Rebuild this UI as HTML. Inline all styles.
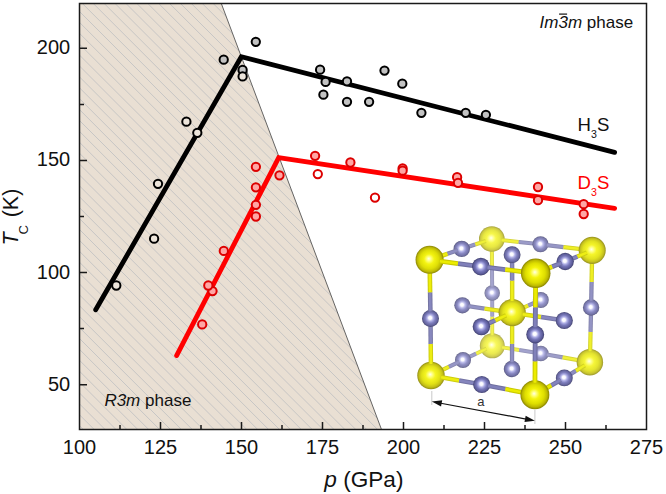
<!DOCTYPE html>
<html><head><meta charset="utf-8"><style>
html,body{margin:0;padding:0;background:#fff;width:666px;height:494px;overflow:hidden}
svg{display:block}
text{font-family:"Liberation Sans",sans-serif}
</style></head><body>
<svg width="666" height="494" viewBox="0 0 666 494">
<defs><clipPath id="shade"><polygon points="79.50,3.50 221.30,3.50 381.50,429.50 79.50,429.50"/></clipPath>
<radialGradient id="g1" cx="0.5" cy="0.5" r="0.5" fx="0.47" fy="0.46"><stop offset="0.00" stop-color="#ffffe9"/><stop offset="0.16" stop-color="#ffff7b"/><stop offset="0.36" stop-color="#f4f412"/><stop offset="0.66" stop-color="#dfdf06"/><stop offset="0.86" stop-color="#c0bc06"/><stop offset="1.00" stop-color="#8a8506"/></radialGradient>
<radialGradient id="g2" cx="0.5" cy="0.5" r="0.5" fx="0.47" fy="0.46"><stop offset="0.00" stop-color="#ffffee"/><stop offset="0.16" stop-color="#ffff9b"/><stop offset="0.36" stop-color="#f7f74b"/><stop offset="0.66" stop-color="#e7e742"/><stop offset="0.86" stop-color="#cfcc42"/><stop offset="1.00" stop-color="#a6a242"/></radialGradient>
<radialGradient id="g3" cx="0.5" cy="0.5" r="0.5" fx="0.47" fy="0.46"><stop offset="0.00" stop-color="#ffffea"/><stop offset="0.16" stop-color="#ffff84"/><stop offset="0.36" stop-color="#f5f521"/><stop offset="0.66" stop-color="#e1e116"/><stop offset="0.86" stop-color="#c4c016"/><stop offset="1.00" stop-color="#918d16"/></radialGradient>
<radialGradient id="g4" cx="0.5" cy="0.5" r="0.5" fx="0.47" fy="0.46"><stop offset="0.00" stop-color="#ffffef"/><stop offset="0.16" stop-color="#ffffa3"/><stop offset="0.36" stop-color="#f8f85a"/><stop offset="0.66" stop-color="#e9e952"/><stop offset="0.86" stop-color="#d3d052"/><stop offset="1.00" stop-color="#adaa52"/></radialGradient>
<radialGradient id="g5" cx="0.5" cy="0.5" r="0.5" fx="0.47" fy="0.46"><stop offset="0.00" stop-color="#ffffe8"/><stop offset="0.16" stop-color="#ffff78"/><stop offset="0.36" stop-color="#f4f40c"/><stop offset="0.66" stop-color="#dede00"/><stop offset="0.86" stop-color="#beba00"/><stop offset="1.00" stop-color="#878200"/></radialGradient>
<radialGradient id="g6" cx="0.5" cy="0.5" r="0.5" fx="0.47" fy="0.46"><stop offset="0.00" stop-color="#ffffeb"/><stop offset="0.16" stop-color="#ffff89"/><stop offset="0.36" stop-color="#f5f52a"/><stop offset="0.66" stop-color="#e2e21f"/><stop offset="0.86" stop-color="#c6c21f"/><stop offset="1.00" stop-color="#96911f"/></radialGradient>
<radialGradient id="g7" cx="0.5" cy="0.5" r="0.5" fx="0.47" fy="0.46"><stop offset="0.00" stop-color="#ffffe8"/><stop offset="0.16" stop-color="#ffff78"/><stop offset="0.36" stop-color="#f4f40c"/><stop offset="0.66" stop-color="#dede00"/><stop offset="0.86" stop-color="#beba00"/><stop offset="1.00" stop-color="#878200"/></radialGradient>
<radialGradient id="g8" cx="0.5" cy="0.5" r="0.5" fx="0.47" fy="0.46"><stop offset="0.00" stop-color="#ffffec"/><stop offset="0.16" stop-color="#ffff91"/><stop offset="0.36" stop-color="#f6f639"/><stop offset="0.66" stop-color="#e4e42f"/><stop offset="0.86" stop-color="#cac72f"/><stop offset="1.00" stop-color="#9d992f"/></radialGradient>
<radialGradient id="g9" cx="0.5" cy="0.5" r="0.5" fx="0.47" fy="0.46"><stop offset="0.00" stop-color="#ffffea"/><stop offset="0.16" stop-color="#ffff86"/><stop offset="0.36" stop-color="#f5f525"/><stop offset="0.66" stop-color="#e1e11b"/><stop offset="0.86" stop-color="#c5c11b"/><stop offset="1.00" stop-color="#948f1b"/></radialGradient>
<radialGradient id="g10" cx="0.5" cy="0.5" r="0.5" fx="0.47" fy="0.46"><stop offset="0.00" stop-color="#ffffff"/><stop offset="0.18" stop-color="#fafaff"/><stop offset="0.38" stop-color="#aaaae4"/><stop offset="0.60" stop-color="#7676b9"/><stop offset="0.85" stop-color="#5a5a96"/><stop offset="1.00" stop-color="#3c3c69"/></radialGradient>
<radialGradient id="g11" cx="0.5" cy="0.5" r="0.5" fx="0.47" fy="0.46"><stop offset="0.00" stop-color="#ffffff"/><stop offset="0.18" stop-color="#fafaff"/><stop offset="0.38" stop-color="#afafe5"/><stop offset="0.60" stop-color="#7e7ebd"/><stop offset="0.85" stop-color="#63639c"/><stop offset="1.00" stop-color="#474771"/></radialGradient>
<radialGradient id="g12" cx="0.5" cy="0.5" r="0.5" fx="0.47" fy="0.46"><stop offset="0.00" stop-color="#ffffff"/><stop offset="0.18" stop-color="#fbfbff"/><stop offset="0.38" stop-color="#b6b6e8"/><stop offset="0.60" stop-color="#8989c3"/><stop offset="0.85" stop-color="#7171a5"/><stop offset="1.00" stop-color="#58587e"/></radialGradient>
<radialGradient id="g13" cx="0.5" cy="0.5" r="0.5" fx="0.47" fy="0.46"><stop offset="0.00" stop-color="#ffffff"/><stop offset="0.18" stop-color="#fbfbff"/><stop offset="0.38" stop-color="#babae9"/><stop offset="0.60" stop-color="#9090c6"/><stop offset="0.85" stop-color="#7979aa"/><stop offset="1.00" stop-color="#616186"/></radialGradient>
<radialGradient id="g14" cx="0.5" cy="0.5" r="0.5" fx="0.47" fy="0.46"><stop offset="0.00" stop-color="#ffffff"/><stop offset="0.18" stop-color="#fbfbff"/><stop offset="0.38" stop-color="#c3c3ec"/><stop offset="0.60" stop-color="#9e9ecd"/><stop offset="0.85" stop-color="#8a8ab4"/><stop offset="1.00" stop-color="#747494"/></radialGradient>
<radialGradient id="g15" cx="0.5" cy="0.5" r="0.5" fx="0.47" fy="0.46"><stop offset="0.00" stop-color="#ffffff"/><stop offset="0.18" stop-color="#fbfbff"/><stop offset="0.38" stop-color="#bbbbe9"/><stop offset="0.60" stop-color="#9292c7"/><stop offset="0.85" stop-color="#7c7cab"/><stop offset="1.00" stop-color="#646487"/></radialGradient>
<radialGradient id="g16" cx="0.5" cy="0.5" r="0.5" fx="0.47" fy="0.46"><stop offset="0.00" stop-color="#ffffff"/><stop offset="0.18" stop-color="#fafaff"/><stop offset="0.38" stop-color="#acace4"/><stop offset="0.60" stop-color="#7979ba"/><stop offset="0.85" stop-color="#5d5d98"/><stop offset="1.00" stop-color="#40406c"/></radialGradient>
<radialGradient id="g17" cx="0.5" cy="0.5" r="0.5" fx="0.47" fy="0.46"><stop offset="0.00" stop-color="#ffffff"/><stop offset="0.18" stop-color="#fafaff"/><stop offset="0.38" stop-color="#aaaae4"/><stop offset="0.60" stop-color="#7676b9"/><stop offset="0.85" stop-color="#5a5a96"/><stop offset="1.00" stop-color="#3c3c69"/></radialGradient>
<radialGradient id="g18" cx="0.5" cy="0.5" r="0.5" fx="0.47" fy="0.46"><stop offset="0.00" stop-color="#ffffff"/><stop offset="0.18" stop-color="#fafaff"/><stop offset="0.38" stop-color="#ababe4"/><stop offset="0.60" stop-color="#7777b9"/><stop offset="0.85" stop-color="#5b5b97"/><stop offset="1.00" stop-color="#3d3d6a"/></radialGradient>
<radialGradient id="g19" cx="0.5" cy="0.5" r="0.5" fx="0.47" fy="0.46"><stop offset="0.00" stop-color="#ffffff"/><stop offset="0.18" stop-color="#fbfbff"/><stop offset="0.38" stop-color="#bfbfeb"/><stop offset="0.60" stop-color="#9999cb"/><stop offset="0.85" stop-color="#8484b0"/><stop offset="1.00" stop-color="#6d6d8f"/></radialGradient>
<radialGradient id="g20" cx="0.5" cy="0.5" r="0.5" fx="0.47" fy="0.46"><stop offset="0.00" stop-color="#ffffff"/><stop offset="0.18" stop-color="#fbfbff"/><stop offset="0.38" stop-color="#b7b7e8"/><stop offset="0.60" stop-color="#8b8bc4"/><stop offset="0.85" stop-color="#7373a6"/><stop offset="1.00" stop-color="#5a5a80"/></radialGradient>
<radialGradient id="g21" cx="0.5" cy="0.5" r="0.5" fx="0.47" fy="0.46"><stop offset="0.00" stop-color="#ffffff"/><stop offset="0.18" stop-color="#fafaff"/><stop offset="0.38" stop-color="#b0b0e6"/><stop offset="0.60" stop-color="#7f7fbe"/><stop offset="0.85" stop-color="#65659d"/><stop offset="1.00" stop-color="#494973"/></radialGradient>
<radialGradient id="g22" cx="0.5" cy="0.5" r="0.5" fx="0.47" fy="0.46"><stop offset="0.00" stop-color="#ffffff"/><stop offset="0.18" stop-color="#fafaff"/><stop offset="0.38" stop-color="#aaaae4"/><stop offset="0.60" stop-color="#7676b9"/><stop offset="0.85" stop-color="#5a5a96"/><stop offset="1.00" stop-color="#3c3c69"/></radialGradient>
<radialGradient id="g23" cx="0.5" cy="0.5" r="0.5" fx="0.47" fy="0.46"><stop offset="0.00" stop-color="#ffffff"/><stop offset="0.18" stop-color="#fbfbff"/><stop offset="0.38" stop-color="#bdbdea"/><stop offset="0.60" stop-color="#9494c9"/><stop offset="0.85" stop-color="#7f7fad"/><stop offset="1.00" stop-color="#67678a"/></radialGradient>
<radialGradient id="g24" cx="0.5" cy="0.5" r="0.5" fx="0.47" fy="0.46"><stop offset="0.00" stop-color="#ffffff"/><stop offset="0.18" stop-color="#fafaff"/><stop offset="0.38" stop-color="#b0b0e6"/><stop offset="0.60" stop-color="#8080be"/><stop offset="0.85" stop-color="#66669e"/><stop offset="1.00" stop-color="#4a4a74"/></radialGradient>
<radialGradient id="g25" cx="0.5" cy="0.5" r="0.5" fx="0.47" fy="0.46"><stop offset="0.00" stop-color="#ffffff"/><stop offset="0.18" stop-color="#fbfbff"/><stop offset="0.38" stop-color="#b6b6e8"/><stop offset="0.60" stop-color="#8989c2"/><stop offset="0.85" stop-color="#7070a4"/><stop offset="1.00" stop-color="#56567d"/></radialGradient>
<radialGradient id="g26" cx="0.5" cy="0.5" r="0.5" fx="0.47" fy="0.46"><stop offset="0.00" stop-color="#ffffff"/><stop offset="0.18" stop-color="#fbfbff"/><stop offset="0.38" stop-color="#b9b9e9"/><stop offset="0.60" stop-color="#8e8ec5"/><stop offset="0.85" stop-color="#7676a8"/><stop offset="1.00" stop-color="#5e5e83"/></radialGradient>
<radialGradient id="g27" cx="0.5" cy="0.5" r="0.5" fx="0.47" fy="0.46"><stop offset="0.00" stop-color="#ffffff"/><stop offset="0.18" stop-color="#fafaff"/><stop offset="0.38" stop-color="#adade5"/><stop offset="0.60" stop-color="#7b7bbc"/><stop offset="0.85" stop-color="#60609a"/><stop offset="1.00" stop-color="#43436f"/></radialGradient>
</defs>
<polygon points="79.50,3.50 221.30,3.50 381.50,429.50 79.50,429.50" fill="#e9dfd3"/>
<path clip-path="url(#shade)" d="M-576.60 -1.50L-140.60 434.50M-565.70 -1.50L-129.70 434.50M-554.80 -1.50L-118.80 434.50M-543.90 -1.50L-107.90 434.50M-533.00 -1.50L-97.00 434.50M-522.10 -1.50L-86.10 434.50M-511.20 -1.50L-75.20 434.50M-500.30 -1.50L-64.30 434.50M-489.40 -1.50L-53.40 434.50M-478.50 -1.50L-42.50 434.50M-467.60 -1.50L-31.60 434.50M-456.70 -1.50L-20.70 434.50M-445.80 -1.50L-9.80 434.50M-434.90 -1.50L1.10 434.50M-424.00 -1.50L12.00 434.50M-413.10 -1.50L22.90 434.50M-402.20 -1.50L33.80 434.50M-391.30 -1.50L44.70 434.50M-380.40 -1.50L55.60 434.50M-369.50 -1.50L66.50 434.50M-358.60 -1.50L77.40 434.50M-347.70 -1.50L88.30 434.50M-336.80 -1.50L99.20 434.50M-325.90 -1.50L110.10 434.50M-315.00 -1.50L121.00 434.50M-304.10 -1.50L131.90 434.50M-293.20 -1.50L142.80 434.50M-282.30 -1.50L153.70 434.50M-271.40 -1.50L164.60 434.50M-260.50 -1.50L175.50 434.50M-249.60 -1.50L186.40 434.50M-238.70 -1.50L197.30 434.50M-227.80 -1.50L208.20 434.50M-216.90 -1.50L219.10 434.50M-206.00 -1.50L230.00 434.50M-195.10 -1.50L240.90 434.50M-184.20 -1.50L251.80 434.50M-173.30 -1.50L262.70 434.50M-162.40 -1.50L273.60 434.50M-151.50 -1.50L284.50 434.50M-140.60 -1.50L295.40 434.50M-129.70 -1.50L306.30 434.50M-118.80 -1.50L317.20 434.50M-107.90 -1.50L328.10 434.50M-97.00 -1.50L339.00 434.50M-86.10 -1.50L349.90 434.50M-75.20 -1.50L360.80 434.50M-64.30 -1.50L371.70 434.50M-53.40 -1.50L382.60 434.50M-42.50 -1.50L393.50 434.50M-31.60 -1.50L404.40 434.50M-20.70 -1.50L415.30 434.50M-9.80 -1.50L426.20 434.50M1.10 -1.50L437.10 434.50M12.00 -1.50L448.00 434.50M22.90 -1.50L458.90 434.50M33.80 -1.50L469.80 434.50M44.70 -1.50L480.70 434.50M55.60 -1.50L491.60 434.50M66.50 -1.50L502.50 434.50M77.40 -1.50L513.40 434.50M88.30 -1.50L524.30 434.50M99.20 -1.50L535.20 434.50M110.10 -1.50L546.10 434.50M121.00 -1.50L557.00 434.50M131.90 -1.50L567.90 434.50M142.80 -1.50L578.80 434.50M153.70 -1.50L589.70 434.50M164.60 -1.50L600.60 434.50M175.50 -1.50L611.50 434.50M186.40 -1.50L622.40 434.50M197.30 -1.50L633.30 434.50M208.20 -1.50L644.20 434.50M219.10 -1.50L655.10 434.50M230.00 -1.50L666.00 434.50M240.90 -1.50L676.90 434.50M251.80 -1.50L687.80 434.50M262.70 -1.50L698.70 434.50M273.60 -1.50L709.60 434.50M284.50 -1.50L720.50 434.50M295.40 -1.50L731.40 434.50M306.30 -1.50L742.30 434.50M317.20 -1.50L753.20 434.50M328.10 -1.50L764.10 434.50M339.00 -1.50L775.00 434.50M349.90 -1.50L785.90 434.50M360.80 -1.50L796.80 434.50M371.70 -1.50L807.70 434.50M382.60 -1.50L818.60 434.50M393.50 -1.50L829.50 434.50" stroke="#c3c3c3" stroke-width="0.9" fill="none"/>
<line x1="221.3" y1="3.5" x2="381.5" y2="429.5" stroke="#555" stroke-width="0.9"/>
<polyline points="95.7,309.8 241.3,56.8 614.6,152.4" fill="none" stroke="#000" stroke-width="4.8" stroke-linecap="round" stroke-linejoin="miter"/>
<polyline points="176.6,355.6 278.7,157.7 614.6,208.3" fill="none" stroke="#ff0000" stroke-width="4.8" stroke-linecap="round" stroke-linejoin="miter"/>
<circle cx="116.3" cy="285.5" r="4.15" fill="#ede5db" stroke="#000" stroke-width="2.0"/>
<circle cx="154.1" cy="238.7" r="4.15" fill="#ede5db" stroke="#000" stroke-width="2.0"/>
<circle cx="158.0" cy="183.8" r="4.15" fill="#ede5db" stroke="#000" stroke-width="2.0"/>
<circle cx="186.4" cy="121.7" r="4.15" fill="#ede5db" stroke="#000" stroke-width="2.0"/>
<circle cx="197.3" cy="132.8" r="4.15" fill="#ede5db" stroke="#000" stroke-width="2.0"/>
<circle cx="223.7" cy="59.7" r="4.15" fill="#c2c2c2" stroke="#000" stroke-width="2.0"/>
<circle cx="242.6" cy="70.0" r="4.15" fill="#c2c2c2" stroke="#000" stroke-width="2.0"/>
<circle cx="242.6" cy="76.4" r="4.15" fill="#ede5db" stroke="#000" stroke-width="2.0"/>
<circle cx="255.8" cy="41.8" r="4.15" fill="#c2c2c2" stroke="#000" stroke-width="2.0"/>
<circle cx="320.1" cy="69.7" r="4.15" fill="#c2c2c2" stroke="#000" stroke-width="2.0"/>
<circle cx="325.6" cy="81.9" r="4.15" fill="#c2c2c2" stroke="#000" stroke-width="2.0"/>
<circle cx="323.4" cy="94.7" r="4.15" fill="#c2c2c2" stroke="#000" stroke-width="2.0"/>
<circle cx="347.0" cy="81.3" r="4.15" fill="#c2c2c2" stroke="#000" stroke-width="2.0"/>
<circle cx="347.0" cy="101.8" r="4.15" fill="#c2c2c2" stroke="#000" stroke-width="2.0"/>
<circle cx="369.1" cy="101.8" r="4.15" fill="#c2c2c2" stroke="#000" stroke-width="2.0"/>
<circle cx="384.5" cy="70.6" r="4.15" fill="#c2c2c2" stroke="#000" stroke-width="2.0"/>
<circle cx="402.3" cy="83.7" r="4.15" fill="#c2c2c2" stroke="#000" stroke-width="2.0"/>
<circle cx="421.4" cy="112.8" r="4.15" fill="#c2c2c2" stroke="#000" stroke-width="2.0"/>
<circle cx="465.7" cy="112.8" r="4.15" fill="#c2c2c2" stroke="#000" stroke-width="2.0"/>
<circle cx="485.9" cy="114.8" r="4.15" fill="#c2c2c2" stroke="#000" stroke-width="2.0"/>
<circle cx="212.5" cy="291.1" r="4.15" fill="#ffa6a4" stroke="#dc0000" stroke-width="2.0"/>
<circle cx="208.3" cy="285.5" r="4.15" fill="#ffa6a4" stroke="#dc0000" stroke-width="2.0"/>
<circle cx="202.2" cy="324.4" r="4.15" fill="#ffa6a4" stroke="#dc0000" stroke-width="2.0"/>
<circle cx="223.8" cy="250.9" r="4.15" fill="#ffa6a4" stroke="#dc0000" stroke-width="2.0"/>
<circle cx="255.9" cy="166.8" r="4.15" fill="#ffa6a4" stroke="#dc0000" stroke-width="2.0"/>
<circle cx="255.9" cy="187.3" r="4.15" fill="#ffa6a4" stroke="#dc0000" stroke-width="2.0"/>
<circle cx="255.9" cy="204.8" r="4.15" fill="#ffa6a4" stroke="#dc0000" stroke-width="2.0"/>
<circle cx="255.9" cy="216.5" r="4.15" fill="#ffa6a4" stroke="#dc0000" stroke-width="2.0"/>
<circle cx="279.5" cy="175.3" r="4.15" fill="#ffa6a4" stroke="#dc0000" stroke-width="2.0"/>
<circle cx="315.1" cy="155.8" r="4.15" fill="#ffa6a4" stroke="#dc0000" stroke-width="2.0"/>
<circle cx="317.8" cy="174.1" r="4.15" fill="#ffffff" stroke="#dc0000" stroke-width="2.0"/>
<circle cx="350.4" cy="162.5" r="4.15" fill="#ffa6a4" stroke="#dc0000" stroke-width="2.0"/>
<circle cx="402.6" cy="168.3" r="4.15" fill="#ffa6a4" stroke="#dc0000" stroke-width="2.0"/>
<circle cx="402.6" cy="170.7" r="4.15" fill="#ffa6a4" stroke="#dc0000" stroke-width="2.0"/>
<circle cx="375.0" cy="197.6" r="4.15" fill="#ffffff" stroke="#dc0000" stroke-width="2.0"/>
<circle cx="457.1" cy="177.2" r="4.15" fill="#ffa6a4" stroke="#dc0000" stroke-width="2.0"/>
<circle cx="458.0" cy="182.8" r="4.15" fill="#ffa6a4" stroke="#dc0000" stroke-width="2.0"/>
<circle cx="538.0" cy="187.0" r="4.15" fill="#ffa6a4" stroke="#dc0000" stroke-width="2.0"/>
<circle cx="538.0" cy="200.2" r="4.15" fill="#ffa6a4" stroke="#dc0000" stroke-width="2.0"/>
<circle cx="583.7" cy="204.2" r="4.15" fill="#ffa6a4" stroke="#dc0000" stroke-width="2.0"/>
<circle cx="583.7" cy="214.0" r="4.15" fill="#ffa6a4" stroke="#dc0000" stroke-width="2.0"/>
<rect x="79.5" y="3.5" width="567.0" height="426.0" fill="none" stroke="#1a1a1a" stroke-width="1.5"/>
<path d="M120.00 429.50V425.00M160.50 429.50V422.00M201.00 429.50V425.00M241.50 429.50V422.00M282.00 429.50V425.00M322.50 429.50V422.00M363.00 429.50V425.00M403.50 429.50V422.00M444.00 429.50V425.00M484.50 429.50V422.00M525.00 429.50V425.00M565.50 429.50V422.00M606.00 429.50V425.00M79.50 384.66H87.00M79.50 328.61H84.00M79.50 272.55H87.00M79.50 216.50H84.00M79.50 160.45H87.00M79.50 104.40H84.00M79.50 48.34H87.00" stroke="#1a1a1a" stroke-width="1.5" fill="none"/>
<text x="79.5" y="454" font-size="20" text-anchor="middle" fill="#111">100</text>
<text x="160.5" y="454" font-size="20" text-anchor="middle" fill="#111">125</text>
<text x="241.5" y="454" font-size="20" text-anchor="middle" fill="#111">150</text>
<text x="322.5" y="454" font-size="20" text-anchor="middle" fill="#111">175</text>
<text x="403.5" y="454" font-size="20" text-anchor="middle" fill="#111">200</text>
<text x="484.5" y="454" font-size="20" text-anchor="middle" fill="#111">225</text>
<text x="565.5" y="454" font-size="20" text-anchor="middle" fill="#111">250</text>
<text x="646.5" y="454" font-size="20" text-anchor="middle" fill="#111">275</text>
<text x="70.2" y="390.7" font-size="20" text-anchor="end" fill="#111">50</text>
<text x="70.2" y="278.6" font-size="20" text-anchor="end" fill="#111">100</text>
<text x="70.2" y="166.4" font-size="20" text-anchor="end" fill="#111">150</text>
<text x="70.2" y="54.3" font-size="20" text-anchor="end" fill="#111">200</text>
<text x="324.3" y="487.1" font-size="22.6" fill="#111"><tspan font-style="italic">p</tspan> (GPa)</text>
<text transform="translate(18.4,245.6) rotate(-90)" font-size="21.5" fill="#111"><tspan font-style="italic">T</tspan><tspan font-size="13" dy="10" dx="-2.1">C</tspan><tspan dy="-10" dx="1.9"> (K)</tspan></text>
<text x="539.6" y="27.7" font-size="17" fill="#111"><tspan font-style="italic">Im3m</tspan> phase</text>
<line x1="559.1" y1="14.1" x2="567.1" y2="14.1" stroke="#111" stroke-width="1.2"/>
<text x="104.4" y="406.4" font-size="17" fill="#111"><tspan font-style="italic">R3m</tspan> phase</text>
<text x="577.6" y="130.6" font-size="18.6" fill="#111">H<tspan font-size="10.6" dy="7.5">3</tspan><tspan dy="-7.5">S</tspan></text>
<text x="577.6" y="189.1" font-size="18.6" fill="#ff0000">D<tspan font-size="10.6" dy="7.3">3</tspan><tspan dy="-7.3">S</tspan></text>
<circle cx="492.30" cy="345.80" r="12.49" fill="url(#g4)"/>
<line x1="492.28" y1="335.24" x2="492.24" y2="316.55" stroke="#dada4f" stroke-width="3.91"/><line x1="492.28" y1="335.24" x2="492.24" y2="316.55" stroke="#f2f24f" stroke-width="2.15"/>
<line x1="492.24" y1="316.55" x2="492.20" y2="293.00" stroke="#9999bc" stroke-width="3.93"/><line x1="492.24" y1="316.55" x2="492.20" y2="293.00" stroke="#a6a6cf" stroke-width="2.16"/>
<line x1="502.00" y1="347.34" x2="519.17" y2="350.07" stroke="#dada4b" stroke-width="3.94"/><line x1="502.00" y1="347.34" x2="519.17" y2="350.07" stroke="#f2f24b" stroke-width="2.17"/>
<circle cx="492.20" cy="293.00" r="7.74" fill="url(#g14)"/>
<line x1="492.02" y1="268.92" x2="492.15" y2="286.52" stroke="#9797ba" stroke-width="3.98"/><line x1="492.02" y1="268.92" x2="492.15" y2="286.52" stroke="#a4a4cd" stroke-width="2.19"/>
<line x1="486.44" y1="348.64" x2="476.07" y2="353.67" stroke="#d9d946" stroke-width="3.99"/><line x1="486.44" y1="348.64" x2="476.07" y2="353.67" stroke="#f1f146" stroke-width="2.19"/>
<line x1="519.17" y1="350.07" x2="540.80" y2="353.50" stroke="#9595b9" stroke-width="4.00"/><line x1="519.17" y1="350.07" x2="540.80" y2="353.50" stroke="#a2a2cd" stroke-width="2.20"/>
<line x1="491.80" y1="239.00" x2="492.02" y2="268.92" stroke="#d8d845" stroke-width="4.00"/><line x1="491.80" y1="239.00" x2="492.02" y2="268.92" stroke="#f1f145" stroke-width="2.20"/>
<circle cx="491.80" cy="239.00" r="12.82" fill="url(#g2)"/>
<circle cx="540.80" cy="353.50" r="7.86" fill="url(#g19)"/>
<line x1="476.07" y1="353.67" x2="463.00" y2="360.00" stroke="#9090b6" stroke-width="4.08"/><line x1="476.07" y1="353.67" x2="463.00" y2="360.00" stroke="#9e9eca" stroke-width="2.25"/>
<line x1="562.70" y1="357.38" x2="546.69" y2="354.54" stroke="#9090b5" stroke-width="4.09"/><line x1="562.70" y1="357.38" x2="546.69" y2="354.54" stroke="#9e9eca" stroke-width="2.25"/>
<line x1="501.54" y1="240.06" x2="518.78" y2="241.94" stroke="#d6d63b" stroke-width="4.09"/><line x1="501.54" y1="240.06" x2="518.78" y2="241.94" stroke="#f0f03b" stroke-width="2.25"/>
<circle cx="540.80" cy="300.00" r="7.96" fill="url(#g23)"/>
<line x1="485.78" y1="240.98" x2="475.12" y2="244.48" stroke="#d5d537" stroke-width="4.14"/><line x1="485.78" y1="240.98" x2="475.12" y2="244.48" stroke="#f0f037" stroke-width="2.28"/>
<line x1="589.90" y1="362.20" x2="562.70" y2="357.38" stroke="#d5d536" stroke-width="4.15"/><line x1="589.90" y1="362.20" x2="562.70" y2="357.38" stroke="#f0f036" stroke-width="2.28"/>
<line x1="518.78" y1="241.94" x2="540.50" y2="244.30" stroke="#8c8cb3" stroke-width="4.15"/><line x1="518.78" y1="241.94" x2="540.50" y2="244.30" stroke="#9b9bc8" stroke-width="2.28"/>
<circle cx="463.00" cy="360.00" r="8.02" fill="url(#g15)"/>
<circle cx="540.50" cy="244.30" r="8.06" fill="url(#g13)"/>
<line x1="528.04" y1="305.62" x2="537.37" y2="301.51" stroke="#8989b1" stroke-width="4.20"/><line x1="528.04" y1="305.62" x2="537.37" y2="301.51" stroke="#9898c7" stroke-width="2.31"/>
<circle cx="589.90" cy="362.20" r="13.21" fill="url(#g8)"/>
<line x1="475.12" y1="244.48" x2="461.70" y2="248.90" stroke="#8787b0" stroke-width="4.23"/><line x1="475.12" y1="244.48" x2="461.70" y2="248.90" stroke="#9696c6" stroke-width="2.33"/>
<line x1="590.14" y1="351.26" x2="590.56" y2="331.90" stroke="#d3d32c" stroke-width="4.24"/><line x1="590.14" y1="351.26" x2="590.56" y2="331.90" stroke="#efef2c" stroke-width="2.33"/>
<circle cx="462.40" cy="305.30" r="8.12" fill="url(#g26)"/>
<line x1="563.56" y1="247.02" x2="546.70" y2="245.03" stroke="#8787af" stroke-width="4.24"/><line x1="563.56" y1="247.02" x2="546.70" y2="245.03" stroke="#9696c6" stroke-width="2.33"/>
<line x1="448.73" y1="366.91" x2="459.16" y2="361.86" stroke="#8787af" stroke-width="4.25"/><line x1="448.73" y1="366.91" x2="459.16" y2="361.86" stroke="#9696c6" stroke-width="2.34"/>
<line x1="590.56" y1="331.90" x2="591.10" y2="307.50" stroke="#8686af" stroke-width="4.26"/><line x1="590.56" y1="331.90" x2="591.10" y2="307.50" stroke="#9595c5" stroke-width="2.35"/>
<circle cx="591.10" cy="307.50" r="8.18" fill="url(#g20)"/>
<line x1="484.61" y1="308.56" x2="468.38" y2="306.18" stroke="#8484ae" stroke-width="4.29"/><line x1="484.61" y1="308.56" x2="468.38" y2="306.18" stroke="#9393c5" stroke-width="2.36"/>
<line x1="512.20" y1="312.60" x2="528.04" y2="305.62" stroke="#d2d226" stroke-width="4.30"/><line x1="512.20" y1="312.60" x2="528.04" y2="305.62" stroke="#efef26" stroke-width="2.36"/>
<line x1="592.20" y1="250.40" x2="563.56" y2="247.02" stroke="#d2d226" stroke-width="4.30"/><line x1="592.20" y1="250.40" x2="563.56" y2="247.02" stroke="#efef26" stroke-width="2.36"/>
<line x1="591.59" y1="282.03" x2="591.23" y2="300.65" stroke="#8383ad" stroke-width="4.31"/><line x1="591.59" y1="282.03" x2="591.23" y2="300.65" stroke="#9292c4" stroke-width="2.37"/>
<circle cx="461.70" cy="248.90" r="8.22" fill="url(#g12)"/>
<line x1="584.78" y1="365.34" x2="575.72" y2="370.90" stroke="#d1d124" stroke-width="4.32"/><line x1="584.78" y1="365.34" x2="575.72" y2="370.90" stroke="#efef24" stroke-width="2.37"/>
<circle cx="512.00" cy="369.00" r="8.24" fill="url(#g25)"/>
<line x1="592.20" y1="250.40" x2="591.59" y2="282.03" stroke="#d1d122" stroke-width="4.33"/><line x1="592.20" y1="250.40" x2="591.59" y2="282.03" stroke="#efef22" stroke-width="2.38"/>
<line x1="431.00" y1="375.50" x2="448.73" y2="366.91" stroke="#d1d121" stroke-width="4.34"/><line x1="431.00" y1="375.50" x2="448.73" y2="366.91" stroke="#eeee21" stroke-width="2.39"/>
<line x1="512.20" y1="312.60" x2="484.61" y2="308.56" stroke="#d1d121" stroke-width="4.34"/><line x1="512.20" y1="312.60" x2="484.61" y2="308.56" stroke="#eeee21" stroke-width="2.39"/>
<line x1="512.09" y1="343.85" x2="512.02" y2="362.23" stroke="#8080ab" stroke-width="4.35"/><line x1="512.09" y1="343.85" x2="512.02" y2="362.23" stroke="#9090c3" stroke-width="2.39"/>
<circle cx="592.20" cy="250.40" r="13.53" fill="url(#g6)"/>
<line x1="512.20" y1="312.60" x2="512.09" y2="343.85" stroke="#d0d01e" stroke-width="4.38"/><line x1="512.20" y1="312.60" x2="512.09" y2="343.85" stroke="#eeee1e" stroke-width="2.41"/>
<line x1="447.38" y1="253.76" x2="457.85" y2="250.21" stroke="#7e7ea9" stroke-width="4.40"/><line x1="447.38" y1="253.76" x2="457.85" y2="250.21" stroke="#8e8ec1" stroke-width="2.42"/>
<circle cx="512.20" cy="312.60" r="13.63" fill="url(#g9)"/>
<line x1="575.72" y1="370.90" x2="564.30" y2="377.90" stroke="#7d7da9" stroke-width="4.41"/><line x1="575.72" y1="370.90" x2="564.30" y2="377.90" stroke="#8d8dc1" stroke-width="2.43"/>
<line x1="512.18" y1="301.04" x2="512.14" y2="280.58" stroke="#cfcf18" stroke-width="4.43"/><line x1="512.18" y1="301.04" x2="512.14" y2="280.58" stroke="#eeee18" stroke-width="2.44"/>
<circle cx="431.00" cy="375.50" r="13.73" fill="url(#g3)"/>
<line x1="512.14" y1="280.58" x2="512.10" y2="254.80" stroke="#7a7aa7" stroke-width="4.46"/><line x1="512.14" y1="280.58" x2="512.10" y2="254.80" stroke="#8a8ac0" stroke-width="2.45"/>
<line x1="522.62" y1="314.18" x2="541.06" y2="316.98" stroke="#cece14" stroke-width="4.47"/><line x1="522.62" y1="314.18" x2="541.06" y2="316.98" stroke="#eeee14" stroke-width="2.46"/>
<line x1="586.80" y1="252.62" x2="577.24" y2="256.55" stroke="#cece14" stroke-width="4.47"/><line x1="586.80" y1="252.62" x2="577.24" y2="256.55" stroke="#eeee14" stroke-width="2.46"/>
<line x1="430.90" y1="364.08" x2="430.72" y2="343.87" stroke="#cece13" stroke-width="4.48"/><line x1="430.90" y1="364.08" x2="430.72" y2="343.87" stroke="#eded13" stroke-width="2.46"/>
<circle cx="512.10" cy="254.80" r="8.44" fill="url(#g24)"/>
<line x1="429.60" y1="259.80" x2="447.38" y2="253.76" stroke="#cece12" stroke-width="4.49"/><line x1="429.60" y1="259.80" x2="447.38" y2="253.76" stroke="#eded12" stroke-width="2.47"/>
<circle cx="564.30" cy="377.90" r="8.46" fill="url(#g21)"/>
<line x1="430.72" y1="343.87" x2="430.50" y2="318.40" stroke="#7777a5" stroke-width="4.50"/><line x1="430.72" y1="343.87" x2="430.50" y2="318.40" stroke="#8888be" stroke-width="2.48"/>
<line x1="441.16" y1="377.30" x2="459.14" y2="380.49" stroke="#cdcd0f" stroke-width="4.51"/><line x1="441.16" y1="377.30" x2="459.14" y2="380.49" stroke="#eded0f" stroke-width="2.48"/>
<line x1="506.04" y1="315.40" x2="495.14" y2="320.36" stroke="#cdcd0f" stroke-width="4.51"/><line x1="506.04" y1="315.40" x2="495.14" y2="320.36" stroke="#eded0f" stroke-width="2.48"/>
<line x1="541.06" y1="316.98" x2="564.30" y2="320.50" stroke="#7676a4" stroke-width="4.52"/><line x1="541.06" y1="316.98" x2="564.30" y2="320.50" stroke="#8787be" stroke-width="2.49"/>
<circle cx="430.50" cy="318.40" r="8.50" fill="url(#g11)"/>
<line x1="430.10" y1="292.26" x2="430.39" y2="311.37" stroke="#7575a3" stroke-width="4.55"/><line x1="430.10" y1="292.26" x2="430.39" y2="311.37" stroke="#8686bd" stroke-width="2.50"/>
<line x1="577.24" y1="256.55" x2="565.20" y2="261.50" stroke="#7474a3" stroke-width="4.56"/><line x1="577.24" y1="256.55" x2="565.20" y2="261.50" stroke="#8585bd" stroke-width="2.51"/>
<line x1="459.14" y1="380.49" x2="481.80" y2="384.50" stroke="#7373a3" stroke-width="4.57"/><line x1="459.14" y1="380.49" x2="481.80" y2="384.50" stroke="#8585bd" stroke-width="2.51"/>
<circle cx="564.30" cy="320.50" r="8.56" fill="url(#g27)"/>
<line x1="429.60" y1="259.80" x2="430.10" y2="292.26" stroke="#cccc09" stroke-width="4.57"/><line x1="429.60" y1="259.80" x2="430.10" y2="292.26" stroke="#eded09" stroke-width="2.51"/>
<line x1="551.19" y1="385.39" x2="560.77" y2="379.92" stroke="#7373a2" stroke-width="4.58"/><line x1="551.19" y1="385.39" x2="560.77" y2="379.92" stroke="#8484bc" stroke-width="2.52"/>
<circle cx="429.60" cy="259.80" r="14.05" fill="url(#g1)"/>
<line x1="495.14" y1="320.36" x2="481.40" y2="326.60" stroke="#7171a1" stroke-width="4.61"/><line x1="495.14" y1="320.36" x2="481.40" y2="326.60" stroke="#8383bb" stroke-width="2.54"/>
<circle cx="481.80" cy="384.50" r="8.62" fill="url(#g16)"/>
<circle cx="565.20" cy="261.50" r="8.66" fill="url(#g18)"/>
<line x1="505.48" y1="389.05" x2="488.17" y2="385.72" stroke="#6e6e9f" stroke-width="4.66"/><line x1="505.48" y1="389.05" x2="488.17" y2="385.72" stroke="#8080ba" stroke-width="2.56"/>
<line x1="439.86" y1="261.16" x2="458.02" y2="263.57" stroke="#caca00" stroke-width="4.66"/><line x1="439.86" y1="261.16" x2="458.02" y2="263.57" stroke="#ecec00" stroke-width="2.56"/>
<line x1="534.90" y1="394.70" x2="551.19" y2="385.39" stroke="#caca00" stroke-width="4.67"/><line x1="534.90" y1="394.70" x2="551.19" y2="385.39" stroke="#ecec00" stroke-width="2.57"/>
<circle cx="481.40" cy="326.60" r="8.72" fill="url(#g22)"/>
<line x1="534.90" y1="394.70" x2="505.48" y2="389.05" stroke="#caca00" stroke-width="4.72"/><line x1="534.90" y1="394.70" x2="505.48" y2="389.05" stroke="#ecec00" stroke-width="2.59"/>
<line x1="458.02" y1="263.57" x2="480.90" y2="266.60" stroke="#6e6e9f" stroke-width="4.72"/><line x1="458.02" y1="263.57" x2="480.90" y2="266.60" stroke="#8080ba" stroke-width="2.60"/>
<line x1="552.04" y1="266.76" x2="561.66" y2="262.92" stroke="#6e6e9f" stroke-width="4.73"/><line x1="552.04" y1="266.76" x2="561.66" y2="262.92" stroke="#8080ba" stroke-width="2.60"/>
<circle cx="480.90" cy="266.60" r="8.82" fill="url(#g10)"/>
<circle cx="534.90" cy="394.70" r="14.44" fill="url(#g7)"/>
<line x1="534.96" y1="382.66" x2="535.07" y2="361.35" stroke="#caca00" stroke-width="4.81"/><line x1="534.96" y1="382.66" x2="535.07" y2="361.35" stroke="#ecec00" stroke-width="2.64"/>
<line x1="505.34" y1="269.59" x2="487.48" y2="267.40" stroke="#6e6e9f" stroke-width="4.81"/><line x1="505.34" y1="269.59" x2="487.48" y2="267.40" stroke="#8080ba" stroke-width="2.65"/>
<line x1="535.70" y1="273.30" x2="552.04" y2="266.76" stroke="#caca00" stroke-width="4.82"/><line x1="535.70" y1="273.30" x2="552.04" y2="266.76" stroke="#ecec00" stroke-width="2.65"/>
<line x1="535.07" y1="361.35" x2="535.20" y2="334.50" stroke="#6e6e9f" stroke-width="4.83"/><line x1="535.07" y1="361.35" x2="535.20" y2="334.50" stroke="#8080ba" stroke-width="2.66"/>
<circle cx="535.20" cy="334.50" r="8.94" fill="url(#g17)"/>
<line x1="535.70" y1="273.30" x2="505.34" y2="269.59" stroke="#caca00" stroke-width="4.87"/><line x1="535.70" y1="273.30" x2="505.34" y2="269.59" stroke="#ecec00" stroke-width="2.68"/>
<line x1="535.42" y1="307.20" x2="535.26" y2="327.16" stroke="#6e6e9f" stroke-width="4.88"/><line x1="535.42" y1="307.20" x2="535.26" y2="327.16" stroke="#8080ba" stroke-width="2.68"/>
<line x1="535.70" y1="273.30" x2="535.42" y2="307.20" stroke="#caca00" stroke-width="4.90"/><line x1="535.70" y1="273.30" x2="535.42" y2="307.20" stroke="#ecec00" stroke-width="2.70"/>
<circle cx="535.70" cy="273.30" r="14.77" fill="url(#g5)"/>
<line x1="431.8" y1="391" x2="431.8" y2="405" stroke="#bbb" stroke-width="0.8"/>
<line x1="534.9" y1="410" x2="534.9" y2="424" stroke="#bbb" stroke-width="0.8"/>
<line x1="436.72" y1="402.51" x2="529.98" y2="419.79" stroke="#111" stroke-width="1.2"/>
<polygon points="431.80,401.60 441.05,406.57 442.22,400.28" fill="#111"/>
<polygon points="534.90,420.70 524.48,422.02 525.65,415.73" fill="#111"/>
<text x="477.2" y="406" font-size="13" fill="#333">a</text>
</svg>
</body></html>
